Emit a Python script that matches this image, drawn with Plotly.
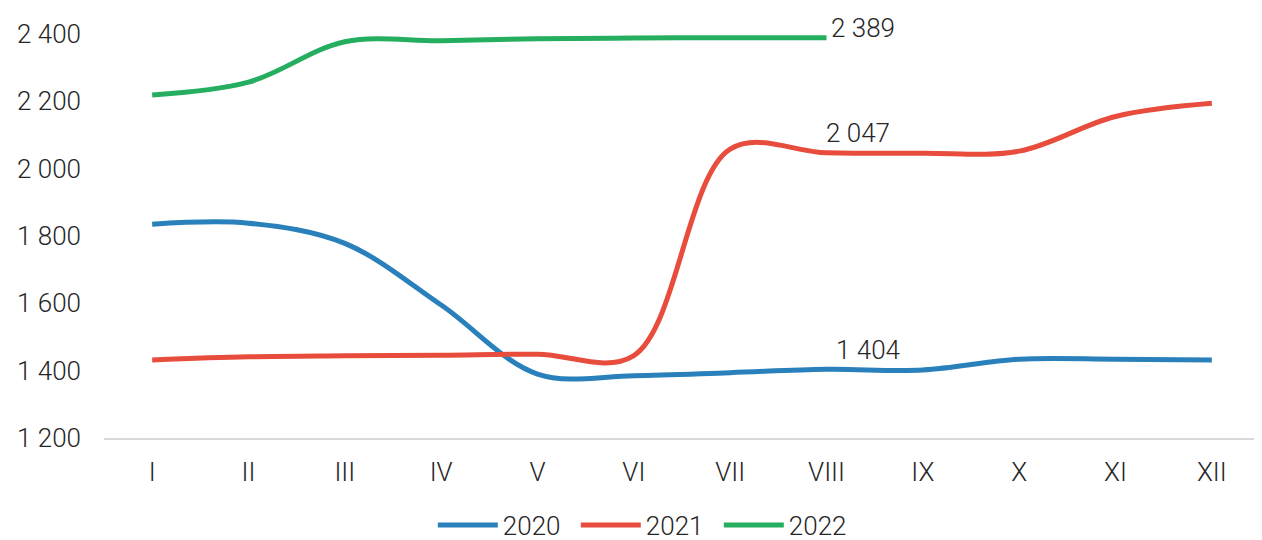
import plotly.graph_objects as go

months = ["I", "II", "III", "IV", "V", "VI", "VII", "VIII", "IX", "X", "XI", "XII"]
y2020 = [1835, 1838, 1778, 1595, 1390, 1385, 1394, 1404, 1402, 1434, 1434, 1432]
y2021 = [1432, 1441, 1444, 1446, 1449, 1445, 2058, 2047, 2046, 2052, 2155, 2194]
y2022 = [2219, 2257, 2377, 2380, 2386, 2388, 2389, 2389]
y_ticks = [1200, 1400, 1600, 1800, 2000, 2200, 2400]

# labelled points: (series values, month index, x offset, y offset)
labels = [(y2022, 7, 2, 10), (y2021, 7, -3, 20), (y2020, 7, 7, 19)]

colors = {"2020": "#2980ba", "2021": "#e74c3c", "2022": "#25ae5f"}
series = {"2020": y2020, "2021": y2021, "2022": y2022}

FONT = dict(family="Roboto", size=26, color="#262626", weight=300)

fig = go.Figure()
for name, vals in series.items():
    fig.add_trace(go.Scatter(
        x=months[:len(vals)], y=vals, name=name, mode="lines",
        line=dict(color=colors[name], width=5, shape="spline", smoothing=1),
    ))

def fmt(v):
    return f"{v:,}".replace(",", " ")

for vals, idx, xs, ys in labels:
    fig.add_annotation(x=months[idx], y=vals[idx], text=fmt(vals[idx]),
                       showarrow=False, xanchor="left", yanchor="middle",
                       xshift=xs, yshift=ys, font=FONT)

# the page adds an 8px body margin at top-left
fig.update_layout(
    width=1254, height=532,
    margin=dict(l=96, r=2, t=26, b=102, autoexpand=False),
    paper_bgcolor="white", plot_bgcolor="white",
    font=FONT,
    showlegend=True,
    legend=dict(orientation="h", x=0.47, xanchor="center",
                yref="container", y=0.028, yanchor="middle",
                font=FONT, traceorder="normal",
                itemwidth=60, entrywidth=68, entrywidthmode="pixels"),
    separators=", ",
)
fig.update_xaxes(
    type="category", categoryorder="array", categoryarray=months,
    range=[-0.5, 11.5], showgrid=False, zeroline=False,
    showline=True, linecolor="#d9d9d9", linewidth=2,
    ticks="", ticklabelstandoff=10, automargin=False,
)
fig.update_yaxes(
    range=[1200, 2400], tickvals=y_ticks, ticktext=[fmt(v) for v in y_ticks],
    showgrid=False, zeroline=False, showline=False, ticks="",
    ticklabelstandoff=22, automargin=False,
)

fig.write_html("out.html")
